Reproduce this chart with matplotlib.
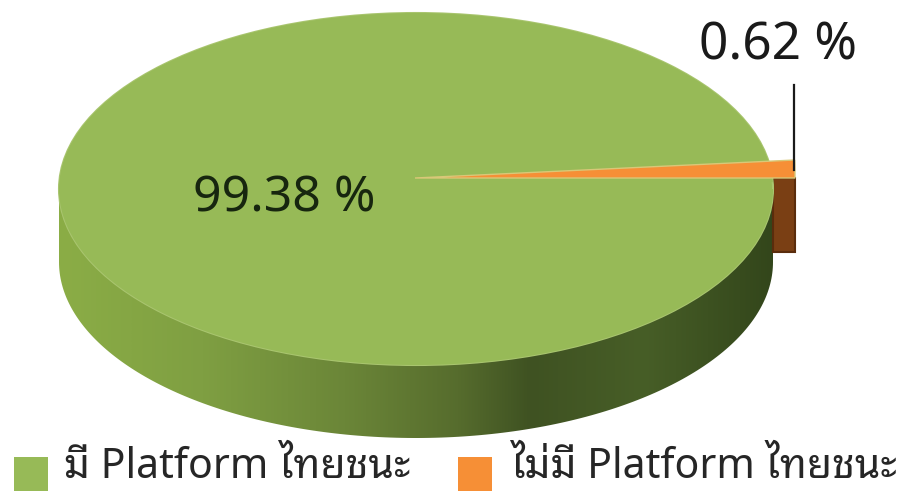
import matplotlib
matplotlib.use('Agg')
import matplotlib.pyplot as plt
from matplotlib.colors import LinearSegmentedColormap
from matplotlib.patches import Ellipse, Polygon, Rectangle
from matplotlib.transforms import Affine2D
import numpy as np

# ข้อมูล
labels = ['มี Platform ไทยชนะ', 'ไม่มี Platform ไทยชนะ']
shares = [99.38, 0.62]
share_text = ['99.38 %', '0.62 %']
colors = ['#97ba57', '#f68f36']

W, H = 909, 495
CX, CY = 416, 189   # จุดศูนย์กลางวงรีด้านบน (พิกเซล)
RX, RY = 357, 176
DEPTH = 73
APEX_X, APEX_Y = 415, 178   # ปลายชิ้นสีส้ม
FONT = ['Noto Sans Thai Looped', 'Noto Sans', 'DejaVu Sans']

plt.rcParams['font.family'] = FONT

fig = plt.figure(figsize=(W / 100, H / 100), dpi=100)
ax = fig.add_axes([0, 0, 1, 1])

# ด้านบนของพาย
small_angle = 360 * shares[1] / sum(shares)
wedges, _ = ax.pie(shares, colors=colors, startangle=small_angle, radius=1)
wedges[0].set_transform(Affine2D().scale(RX, RY).translate(CX, H - CY) + ax.transData)
wedges[0].set_zorder(3)
# ชิ้นเล็กถูกดึงออกและยืดตามมุมมองของภาพ
stretch = 18 / np.sin(np.radians(small_angle))
wedges[1].set_transform(Affine2D().scale(380, stretch).translate(APEX_X, H - APEX_Y) + ax.transData)
wedges[1].set_edgecolor('#d8c878')
wedges[1].set_linewidth(1.0)
wedges[1].set_zorder(4)

ax.add_patch(Ellipse((CX, H - CY), 2 * RX, 2 * RY, fc=colors[0], ec='#a9c56f', lw=1.5, zorder=2.5))

ax.set_aspect('auto')
ax.set_xlim(0, W)
ax.set_ylim(0, H)
ax.axis('off')

# ผนังด้านข้างไล่สี
t = np.linspace(np.pi, 2 * np.pi, 200)
ex = CX + RX * np.cos(t)
ey = H - CY + RY * np.sin(t)
wall = np.vstack([np.c_[ex, ey], np.c_[ex[::-1], ey[::-1] - DEPTH]])
wall_patch = Polygon(wall, closed=True, fc='none', ec='none', transform=ax.transData)
ax.add_patch(wall_patch)
wall_cmap = LinearSegmentedColormap.from_list('wall', [
    (0.00, '#8bad46'), (0.20, '#7f9f42'), (0.40, '#6b8638'), (0.56, '#566c2d'),
    (0.66, '#3f5222'), (0.82, '#475e27'), (1.00, '#33461b')])
grad = np.linspace(0, 1, 256).reshape(1, -1)
im = ax.imshow(grad, cmap=wall_cmap, extent=[CX - RX, CX + RX, H - CY - RY - DEPTH, H - CY],
               aspect='auto', zorder=1)
im.set_clip_path(wall_patch)
ax.set_xlim(0, W)
ax.set_ylim(0, H)

# หน้าตัดสีน้ำตาลของชิ้นเล็ก
ax.add_patch(Rectangle((773, H - 252), 22, 74, fc='#7a3f14', ec='#5a2c0c', lw=1.5, zorder=2))

# เส้นโยงป้าย
ax.plot([793.5, 793.5], [H - 85, H - 170], color='#1a1a1a', lw=1.6, zorder=5)

# ป้ายค่า
ax.text(284, H - 199, share_text[0], fontsize=36, color='#17260f', ha='center', va='center', zorder=6)
ax.text(778, H - 46, share_text[1], fontsize=37, color='#1a1a1a', ha='center', va='center', zorder=6)

# คำอธิบาย
legend_x = [14, 458]
text_x = [64, 510]
for i, lab in enumerate(labels):
    ax.add_patch(Rectangle((legend_x[i], H - 491), 34, 34, fc=colors[i], ec='none', zorder=3))
    ax.text(text_x[i], H - 467, lab, fontsize=29.5, color='#262626', ha='left', va='center', zorder=6)

fig.savefig('out.png', dpi=100)
